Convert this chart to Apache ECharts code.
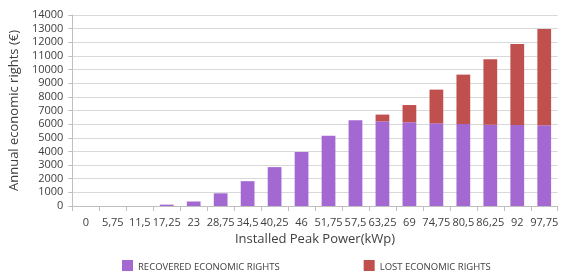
<!DOCTYPE html>
<html>
<head>
<meta charset="utf-8">
<script src="https://cdn.jsdelivr.net/npm/echarts@6/dist/echarts.min.js"></script>
<style>
  html, body { margin: 0; padding: 0; background: #fff; }
  #chart { width: 561px; height: 271px; }
</style>
</head>
<body>
<div id="chart"></div>
<script>
const categories = ['0', '5,75', '11,5', '17,25', '23', '28,75', '34,5', '40,25', '46', '51,75',
  '57,5', '63,25', '69', '74,75', '80,5', '86,25', '92', '97,75'];
const recovered = [0, 0, 0, 100, 330, 930, 1820, 2850, 3960, 5150, 6280, 6210, 6140, 6060, 6010, 5960, 5940, 5920];
const lost = [0, 0, 0, 0, 0, 0, 0, 0, 0, 0, 0, 490, 1260, 2470, 3620, 4790, 5940, 7060];

const textColor = '#404040';
const font = 'Open Sans';

const myChart = echarts.init(document.getElementById('chart'));
myChart.setOption({
  animation: false,
  textStyle: { fontFamily: font },
  grid: { left: 68, right: -1, top: 15, bottom: 65 },
  legend: {
    top: 255,
    left: 117,
    itemGap: 84,
    itemWidth: 11,
    itemHeight: 15,
    icon: 'rect',
    textStyle: { fontSize: 9.5, color: textColor, fontFamily: font },
    data: ['RECOVERED ECONOMIC RIGHTS', 'LOST ECONOMIC RIGHTS']
  },
  xAxis: {
    type: 'category',
    data: categories,
    name: 'Installed Peak Power(kWp)',
    nameLocation: 'middle',
    nameGap: 25,
    nameTextStyle: { fontSize: 13, color: textColor },
    axisLine: { lineStyle: { color: '#bfbfbf' } },
    axisTick: { show: true, length: 5, lineStyle: { color: '#bfbfbf' } },
    axisLabel: { fontSize: 11, color: textColor, margin: 11, interval: 0 }
  },
  yAxis: {
    type: 'value',
    min: 0,
    max: 14000,
    interval: 1000,
    name: 'Annual economic rights (€)',
    nameLocation: 'middle',
    nameGap: 44,
    nameTextStyle: { fontSize: 13, color: textColor },
    axisLine: { show: true, lineStyle: { color: '#bfbfbf' } },
    axisTick: { show: true, length: 4, lineStyle: { color: '#bfbfbf' } },
    axisLabel: { fontSize: 11, color: textColor, margin: 9, formatter: v => String(v) },
    splitLine: { lineStyle: { color: '#d9d9d9' } }
  },
  series: [
    {
      name: 'RECOVERED ECONOMIC RIGHTS',
      type: 'bar',
      stack: 'total',
      data: recovered,
      barWidth: '51%',
      itemStyle: { color: '#a468d2' }
    },
    {
      name: 'LOST ECONOMIC RIGHTS',
      type: 'bar',
      stack: 'total',
      data: lost,
      barWidth: '51%',
      itemStyle: { color: '#c0504d' }
    }
  ]
});
</script>
</body>
</html>
